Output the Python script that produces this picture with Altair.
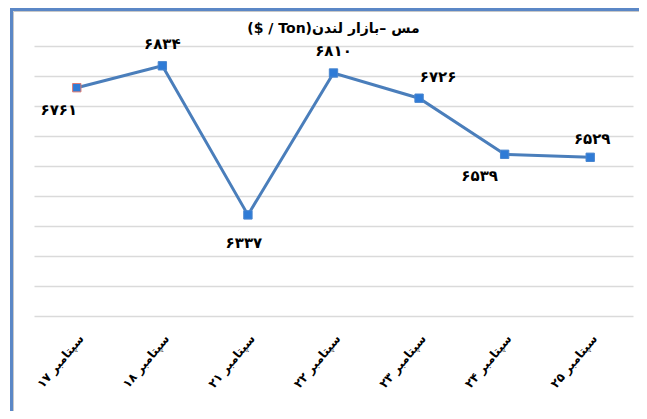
import altair as alt
import pandas as pd

# ---- data ----
categories = ["سپتامبر ۱۷", "سپتامبر ۱۸", "سپتامبر ۲۱", "سپتامبر ۲۲", "سپتامبر ۲۳", "سپتامبر ۲۴", "سپتامبر ۲۵"]
prices = [6761, 6834, 6337, 6810, 6726, 6539, 6529]
y_ticks = [6000, 6100, 6200, 6300, 6400, 6500, 6600, 6700, 6800, 6900]
title_text = "($ / Ton)مس –بازار لندن"

persian = str.maketrans("0123456789", "۰۱۲۳۴۵۶۷۸۹")
value_labels = [str(v).translate(persian) for v in prices]

df = pd.DataFrame({"cat": categories, "price": prices, "label": value_labels})

# label placement groups (dx, dy) -> categories
label_groups = [
    ((-18, 22), [categories[0]]),
    ((0, -22), [categories[1], categories[3]]),
    ((-4, 28), [categories[2]]),
    ((19, -21), [categories[4]]),
    ((-25, 22), [categories[5]]),
    ((2, -18), [categories[6]]),
]

W, H = 599, 270
FONT = "DejaVu Sans"

x_enc = alt.X("cat:N", sort=categories, title=None,
              scale=alt.Scale(type="point", padding=0.5),
              axis=alt.Axis(labelAngle=-50, labelFont=FONT, labelFontWeight="bold",
                            labelFontSize=12, labelColor="#000000", labelPadding=20,
                            labelOffset=4,
                            domain=False, ticks=False, grid=False))
y_enc = alt.Y("price:Q", title=None,
              scale=alt.Scale(domain=[6000, 6900], nice=False, zero=False),
              axis=alt.Axis(values=y_ticks, labels=False, domain=False, ticks=False,
                            grid=True, gridColor="#DADADA", gridWidth=1.5))

base = alt.Chart(df)

line = base.mark_line(color="#4A7EBB", strokeWidth=3).encode(x=x_enc, y=y_enc)

points = base.mark_point(shape="square", size=70, filled=True, opacity=1,
                         fill="#2F7BD6", strokeWidth=1).encode(
    x=x_enc, y=y_enc,
    stroke=alt.condition(alt.datum.cat == categories[0], alt.value("#E07A70"), alt.value("#4A86CF")),
)

texts = []
for (dx, dy), cats in label_groups:
    texts.append(
        base.mark_text(font=FONT, fontWeight="bold", fontSize=15, color="#000000",
                       dx=dx, dy=dy, baseline="middle", align="center")
        .encode(x=x_enc, y=y_enc, text="label:N")
        .transform_filter(alt.FieldOneOfPredicate(field="cat", oneOf=cats))
    )

frame = alt.Chart(alt.Data(values=[{}])).mark_rect(
    fill=None, stroke="#5B87C6", strokeWidth=3
).encode(x=alt.value(-22.5), x2=alt.value(2000), y=alt.value(-36.5), y2=alt.value(2000))

frame_shadow = alt.Chart(alt.Data(values=[{}])).mark_rect(
    fill=None, stroke="#C8C8C8", strokeWidth=1
).encode(x=alt.value(-20.5), x2=alt.value(2000), y=alt.value(-34.5), y2=alt.value(2000))

chart = alt.layer(frame_shadow, frame, line, points, *texts).properties(
    width=W, height=H,
    title=alt.TitleParams(title_text, font=FONT, fontSize=14, fontWeight="bold",
                          color="#000000", anchor="middle", offset=-28),
    autosize=alt.AutoSizeParams(type="none"),
    padding={"left": 26, "top": 38, "right": 6, "bottom": 95},
).configure(background="white").configure_view(stroke=None)

chart.save("out.html", embed_options={"renderer": "svg", "actions": False})
